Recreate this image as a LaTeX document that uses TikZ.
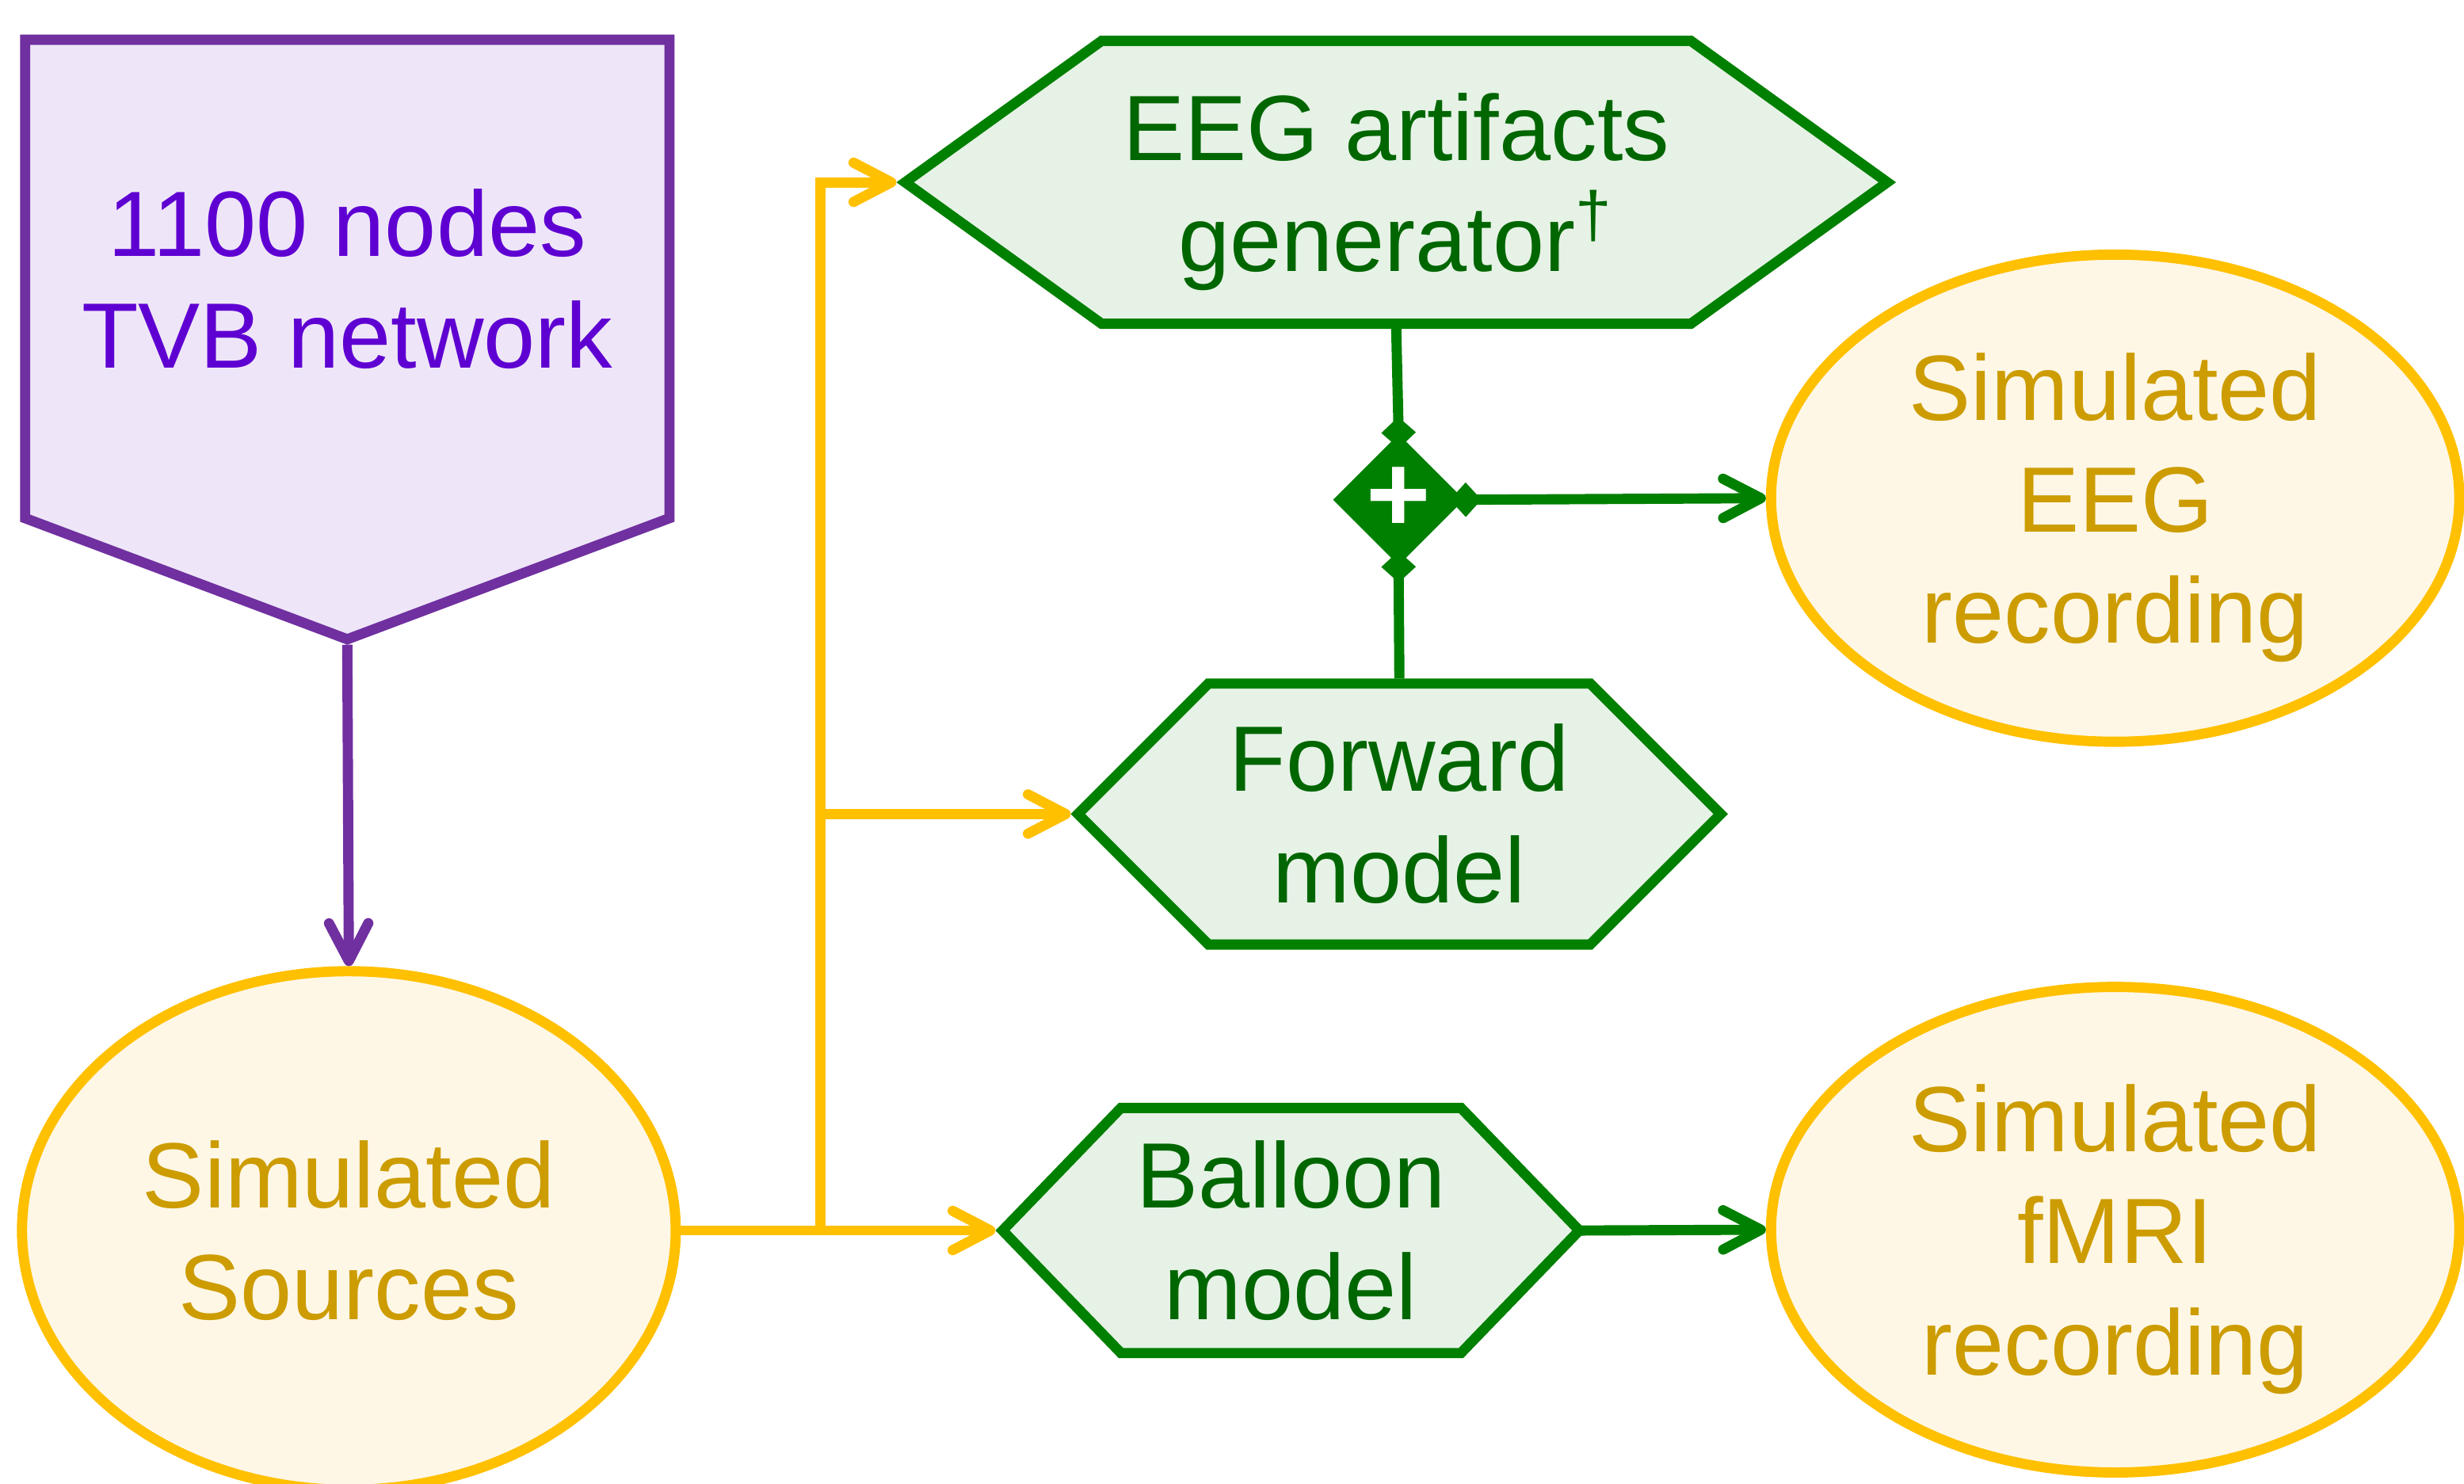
\documentclass[tikz,border=0pt]{standalone}
\usepackage{fontspec}
\setmainfont{Liberation Sans}
\usetikzlibrary{shapes.geometric,shapes.symbols,arrows.meta}

\definecolor{netline}{HTML}{7030A0}
\definecolor{netfill}{HTML}{EEE6F8}
\definecolor{nettext}{HTML}{5F00D2}
\definecolor{sigline}{HTML}{FFC000}
\definecolor{sigfill}{HTML}{FFF7E6}
\definecolor{sigtext}{HTML}{CC9C00}
\definecolor{modline}{HTML}{008000}
\definecolor{modfill}{HTML}{E6F2E6}
\definecolor{modtext}{HTML}{006600}

\begin{document}
\begin{tikzpicture}[box/.style={draw,line width=1.85pt,align=center,inner sep=0pt,
                                font=\fontsize{16.8}{20.2}\selectfont},
                    network/.style={box,signal,signal to=south,signal from=nowhere,
                                    draw=netline,fill=netfill,text=nettext},
                    recording/.style={box,ellipse,draw=sigline,fill=sigfill,text=sigtext},
                    model/.style={box,signal,signal to=east and west,
                                  draw=modline,fill=modfill,text=modtext},
                    barb/.tip={Straight Barb[length=2.4mm,width=2.5mm,round]},
                    dot/.tip={Diamond[length=2mm,width=2.2mm]},
                    feed/.style={line width=1.85pt,sigline,-barb},
                    combine/.style={line width=1.85pt,modline}]
  \useasboundingbox (0,0) rectangle (15.68,-9.44);

  \node[network,minimum width=4.10cm,minimum height=3.68cm,signal pointer angle=138.8]
    (net) at (2.21,-1.775) {1100 nodes\\TVB network};
  \node[recording,minimum width=4.16cm,minimum height=3.30cm]
    (src) at (2.22,-7.83) {Simulated\\Sources};

  \node[model,minimum width=6.25cm,minimum height=1.80cm,signal pointer angle=71.5]
    (gen) at (8.885,-1.16) {EEG artifacts\\\smash{generator\textsuperscript{†}}};
  \node[model,minimum width=4.09cm,minimum height=1.66cm,signal pointer angle=90]
    (fwd) at (8.905,-5.18) {Forward\\model};
  \node[model,minimum width=3.67cm,minimum height=1.56cm,signal pointer angle=92]
    (ball) at (8.215,-7.83) {Balloon\\model};
  \node[diamond,fill=modline,text=white,minimum size=0.84cm,inner sep=0pt,
        font=\fontsize{20}{20}\selectfont\bfseries] (plus) at (8.90,-3.18) {+};

  \node[recording,minimum width=4.38cm,minimum height=3.10cm]
    (eeg) at (13.46,-3.17) {Simulated\\EEG\\\smash{recording}};
  \node[recording,minimum width=4.38cm,minimum height=3.09cm]
    (fmri) at (13.46,-7.825) {Simulated\\fMRI\\\smash{recording}};

  \draw[line width=1.85pt,netline,-barb] (net.south) -- (src.north);

  \coordinate (trunk) at (5.22,-7.83);
  \draw[feed] (src.east) -- (ball.west);
  \draw[feed] (trunk) |- (gen.west);
  \draw[feed] (trunk |- fwd.west) -- (fwd.west);

  \draw[combine,-dot,shorten >=-1mm] (gen.south) -- (plus.north);
  \draw[combine,-dot,shorten >=-1mm] (fwd.north) -- (plus.south);
  \draw[combine,dot-barb,shorten <=-1mm] (plus.east) -- (eeg.west);
  \draw[combine,-barb,shorten <=-0.6mm] (ball.east) -- (fmri.west);
\end{tikzpicture}
\end{document}
